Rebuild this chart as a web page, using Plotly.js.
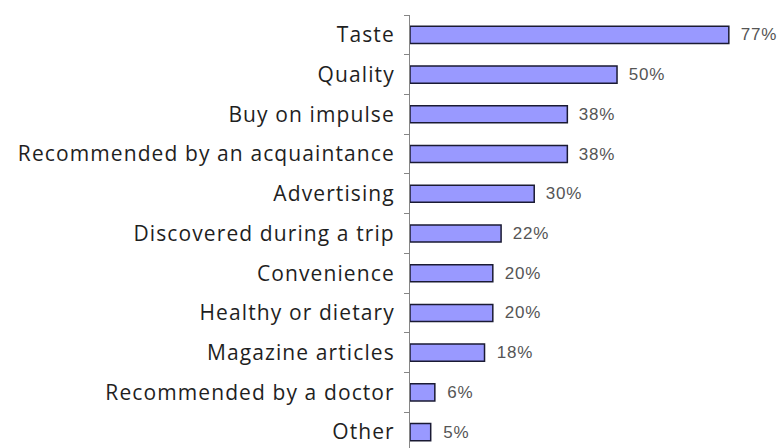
<!DOCTYPE html>
<html><head><meta charset="utf-8">
<script src="https://cdn.plot.ly/plotly-3.0.1.min.js"></script>
<style>
html,body{margin:0;padding:0;background:#fff}
#chart .ytick text{letter-spacing:1.1px}
#chart .annotation-text{letter-spacing:0.8px}
</style>
</head><body>
<div id="chart" style="width:781px;height:448px"></div>
<script>
const categories = ["Taste","Quality","Buy on impulse","Recommended by an acquaintance","Advertising","Discovered during a trip","Convenience","Healthy or dietary","Magazine articles","Recommended by a doctor","Other"];
const values = [77,50,38,38,30,22,20,20,18,6,5];
const valueLabels = values.map(v => v + "%");

const trace = {
  type: "bar", orientation: "h",
  y: categories, x: values,
  marker: {color: "#9999ff", line: {color: "#1a1a33", width: 1.5}},
  width: 0.43,
  hoverinfo: "none"
};
const annotations = values.map((v,i) => ({
  x: v, y: categories[i], xref: "x", yref: "y",
  text: valueLabels[i], showarrow: false, xanchor: "left", xshift: 11,
  font: {family: "Liberation Sans, Arial, sans-serif", size: 17, color: "#555555"}
}));
const layout = {
  width: 781, height: 448,
  margin: {l: 410, r: 0, t: 15, b: 0},
  paper_bgcolor: "#fff", plot_bgcolor: "#fff",
  showlegend: false,
  xaxis: {range: [0, 89.6], visible: false, fixedrange: true},
  yaxis: {
    type: "category", categoryorder: "array", categoryarray: categories,
    range: [10.4, -0.5], tickson: "boundaries", ticks: "outside", ticklen: 5,
    tickcolor: "#868686", showline: true, linecolor: "#868686", linewidth: 1,
    showgrid: false, zeroline: false, ticklabelstandoff: 10,
    tickfont: {family: "Open Sans, sans-serif", size: 21, color: "#1f1f1f"}
  },
  annotations: annotations
};
Plotly.newPlot("chart", [trace], layout, {displayModeBar: false, staticPlot: true});
</script>
</body></html>
